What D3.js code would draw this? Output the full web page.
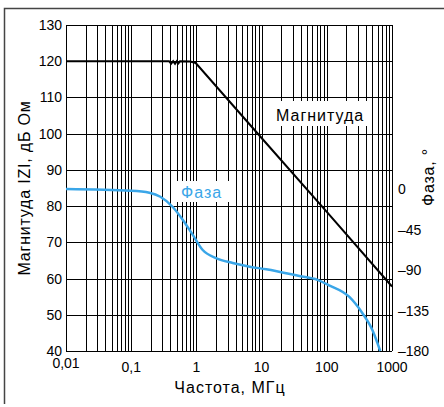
<!DOCTYPE html>
<html>
<head>
<meta charset="utf-8">
<script src="https://cdn.jsdelivr.net/npm/d3@7"></script>
<style>
  body { margin: 0; background: #fff; }
  svg text { font-family: "Liberation Sans", Arial, sans-serif; }
</style>
</head>
<body>
<svg width="444" height="407"></svg>
<script>
  // magnitude curve, MHz vs dB Ohm
  const magFreq = [0.01, 0.38, 0.41, 0.44, 0.47, 0.50, 0.53, 0.56, 0.8, 0.95, 1.0, 10, 100, 1000];
  const magDb   = [120, 120, 119.3, 120, 119.3, 120, 119.4, 120, 119.9, 119.6, 119.3, 98.8, 78.4, 57.8];

  // phase curve, MHz vs degrees
  const phFreq = [0.01, 0.1, 0.19, 0.28, 0.43, 0.62, 0.88, 1.25, 2.0, 3.6, 6.6, 11.8, 38, 72, 106, 220, 350, 500, 660];
  const phDeg  = [0, -1.9, -4.1, -8.6, -19.7, -34.4, -51, -67.8, -76.7, -82.2, -86.3, -89.2, -96.7, -101, -106.7, -119.7, -137.8, -156.7, -180];

  const xTicks = [0.01, 0.1, 1, 10, 100, 1000];
  const xTickLabels = ['0,01', '0,1', '1', '10', '100', '1000'];
  const yTicks = [40, 50, 60, 70, 80, 90, 100, 110, 120, 130];
  const phTicks = [0, -45, -90, -135, -180];
  const phTickLabels = ['0', '–45', '–90', '–135', '–180'];

  const svg = d3.select('svg');

  const x = d3.scaleLog().domain([0.01, 1000]).range([66, 392]);
  const y = d3.scaleLinear().domain([40, 130]).range([351, 25]);
  const yPh = d3.scaleLinear().domain([-180, 0]).range([351, 189]);

  // outer frame (top and left only)
  svg.append('path')
    .attr('d', 'M4.5,404 V8.5 H444')
    .attr('fill', 'none')
    .attr('stroke', '#444')
    .attr('stroke-width', 1.5);

  // vertical grid: 1..9 in every decade
  const vLines = [];
  for (let k = -2; k <= 2; k++) {
    for (let m = 1; m <= 9; m++) vLines.push(m * Math.pow(10, k));
  }
  vLines.push(1000);

  const grid = svg.append('g').attr('stroke', '#000').attr('stroke-width', 1);
  grid.selectAll('.v').data(vLines).enter().append('line')
    .attr('x1', d => Math.round(x(d)) + 0.5)
    .attr('x2', d => Math.round(x(d)) + 0.5)
    .attr('y1', y(130))
    .attr('y2', y(40));
  grid.selectAll('.h').data(yTicks).enter().append('line')
    .attr('x1', x(0.01))
    .attr('x2', x(1000))
    .attr('y1', d => Math.round(y(d)) + 0.5)
    .attr('y2', d => Math.round(y(d)) + 0.5);

  // label boxes (white background over grid)
  svg.append('rect').attr('x', 272).attr('y', 101).attr('width', 96).attr('height', 25).attr('fill', '#fff');
  svg.append('rect').attr('x', 177).attr('y', 181).attr('width', 54).attr('height', 21).attr('fill', '#fff');

  // magnitude
  svg.append('path')
    .datum(magFreq.map((f, i) => [x(f), y(magDb[i])]))
    .attr('d', d3.line())
    .attr('fill', 'none')
    .attr('stroke', '#000')
    .attr('stroke-width', 2);

  // phase
  svg.append('path')
    .datum(phFreq.map((f, i) => [x(f), yPh(phDeg[i])]))
    .attr('d', d3.line().curve(d3.curveMonotoneX))
    .attr('fill', 'none')
    .attr('stroke', '#3aa6e8')
    .attr('stroke-width', 2.5);

  // curve labels
  svg.append('text').attr('x', 276).attr('y', 121).attr('font-size', 16)
    .attr('letter-spacing', 1).attr('fill', '#000').text('Магнитуда');
  svg.append('text').attr('x', 181).attr('y', 198).attr('font-size', 16)
    .attr('letter-spacing', 1).attr('fill', '#3aa6e8').text('Фаза');

  // left ticks
  svg.append('g').selectAll('text').data(yTicks).enter().append('text')
    .attr('x', 62)
    .attr('y', d => y(d) + 5)
    .attr('text-anchor', 'end')
    .attr('font-size', 14)
    .text(d => d);

  // bottom ticks
  svg.append('g').selectAll('text').data(xTicks).enter().append('text')
    .attr('x', d => x(d))
    .attr('y', (d, i) => i === 0 ? 368 : 372)
    .attr('text-anchor', 'middle')
    .attr('font-size', 14)
    .text((d, i) => xTickLabels[i]);

  // right ticks (phase)
  svg.append('g').selectAll('text').data(phTicks).enter().append('text')
    .attr('x', 398)
    .attr('y', d => yPh(d) + 5)
    .attr('font-size', 14)
    .text((d, i) => phTickLabels[i]);

  // axis titles
  svg.append('text')
    .attr('transform', 'translate(30,188) rotate(-90)')
    .attr('text-anchor', 'middle')
    .attr('font-size', 16)
    .attr('letter-spacing', 0.8)
    .text('Магнитуда IZI, дБ Ом');

  svg.append('text')
    .attr('transform', 'translate(434,177) rotate(-90)')
    .attr('text-anchor', 'middle')
    .attr('font-size', 16)
    .attr('letter-spacing', 0.8)
    .text('Фаза, °');

  svg.append('text')
    .attr('x', 230)
    .attr('y', 393)
    .attr('text-anchor', 'middle')
    .attr('font-size', 16)
    .attr('letter-spacing', 1)
    .text('Частота, МГц');
</script>
</body>
</html>
